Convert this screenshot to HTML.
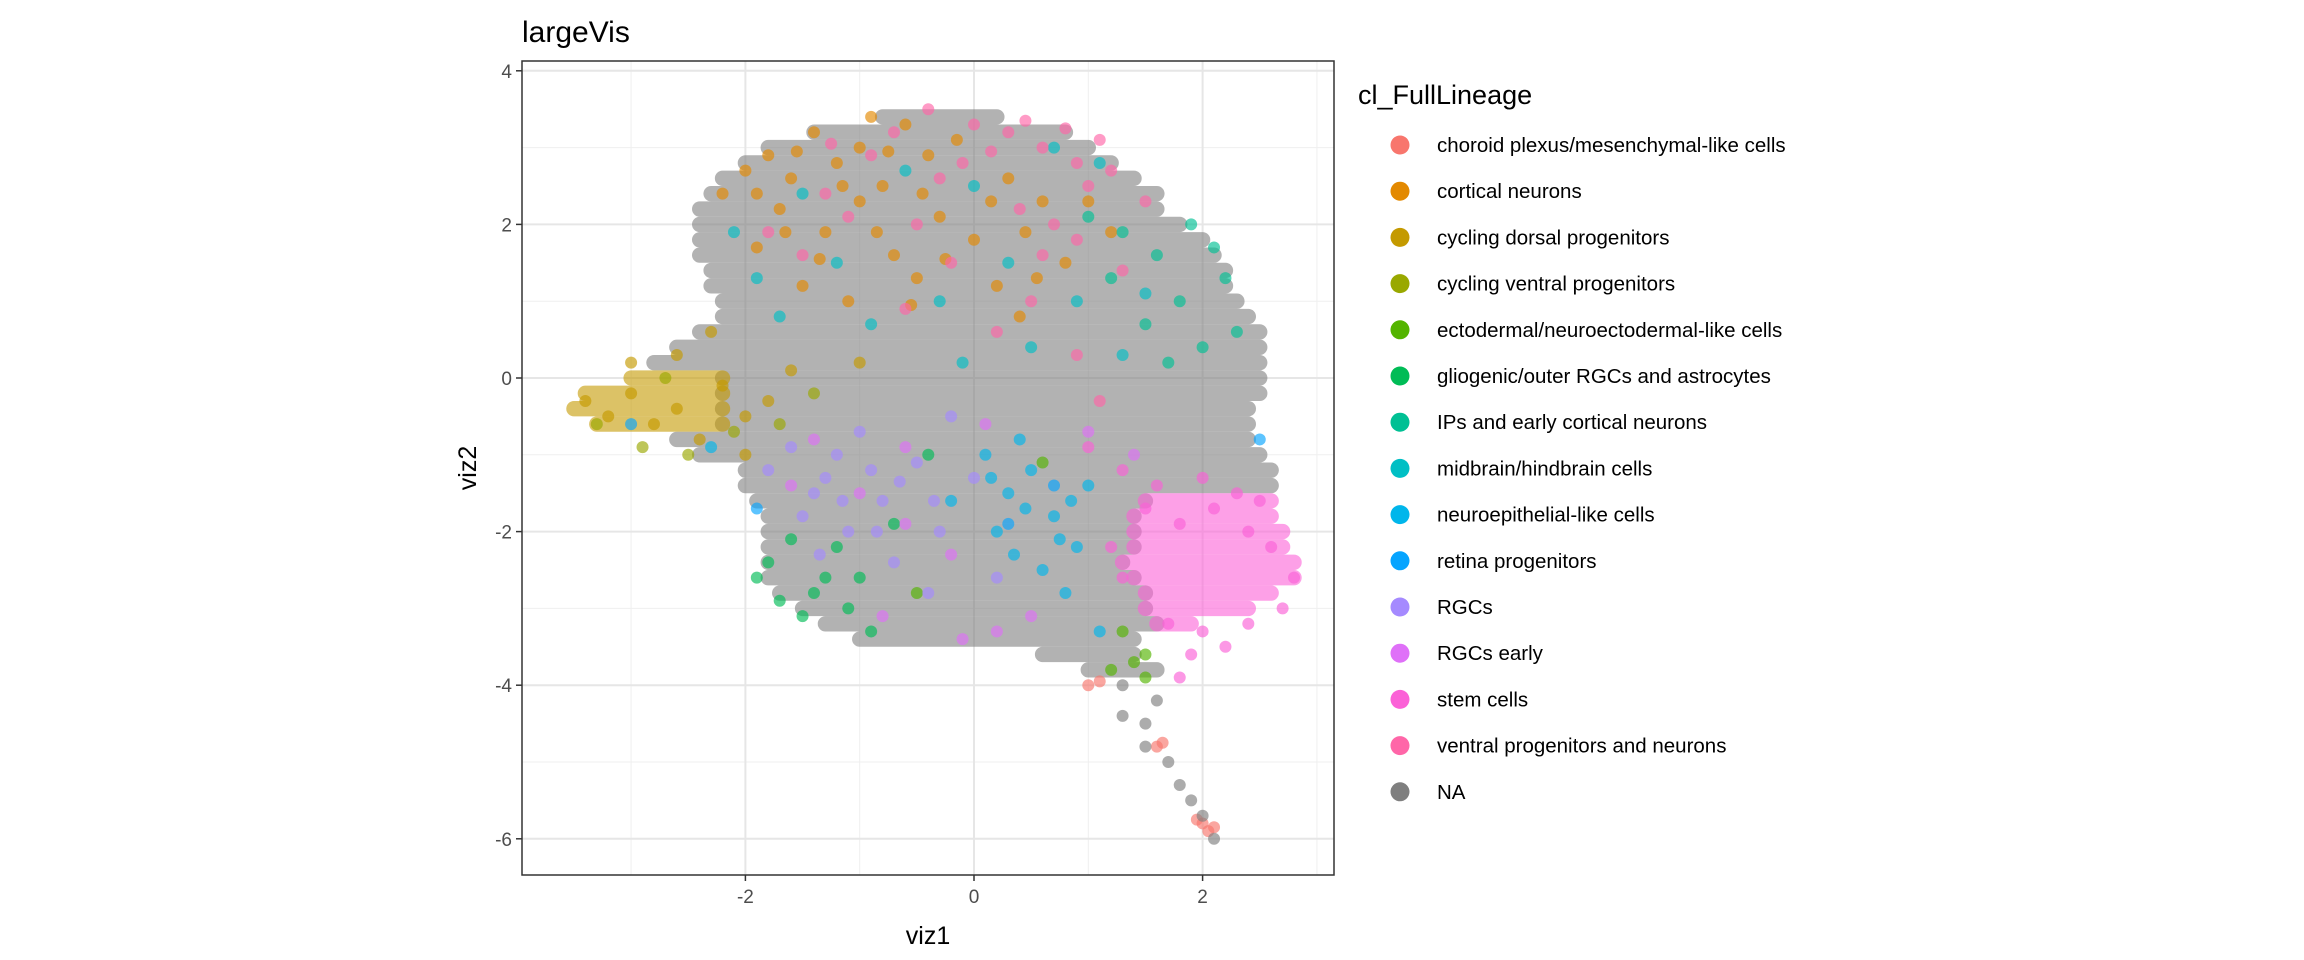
<!DOCTYPE html>
<html><head><meta charset="utf-8">
<style>
html,body{margin:0;padding:0;background:#fff;}
svg{display:block;font-family:"Liberation Sans",Arial,sans-serif;}
</style></head>
<body>
<svg id="chart" width="2304" height="960" viewBox="0 0 2304 960" xmlns="http://www.w3.org/2000/svg">
<rect width="2304" height="960" fill="#fff"/>
<text x="522" y="42" font-size="30" fill="#000">largeVis</text>
<g id="panel"></g>
<g id="legend"></g>
</svg>
<script>
const categories = ["choroid plexus/mesenchymal-like cells","cortical neurons","cycling dorsal progenitors","cycling ventral progenitors","ectodermal/neuroectodermal-like cells","gliogenic/outer RGCs and astrocytes","IPs and early cortical neurons","midbrain/hindbrain cells","neuroepithelial-like cells","retina progenitors","RGCs","RGCs early","stem cells","ventral progenitors and neurons","NA"];
const catColors = ["#F8766D","#E38900","#C49A00","#99A800","#53B400","#00BC56","#00C094","#00BFC4","#00B6EB","#06A4FF","#A58AFF","#DF70F8","#FB61D7","#FF66A8","#7F7F7F"];
const xTicks = [-2,0,2];
const yTicks = [-6,-4,-2,0,2,4];
const xTickLabels = ["-2","0","2"];
const yTickLabels = ["-6","-4","-2","0","2","4"];
const xMinor = [-3,-1,1,3];
const yMinor = [-5,-3,-1,1,3];
// dense cloud rows: [y, xStart, xEnd, categoryIndex]
const cloudRows = [
[3.4,-0.8,0.2,14],[3.2,-1.4,0.8,14],[3.0,-1.8,1.0,14],[2.8,-2.0,1.2,14],[2.6,-2.2,1.4,14],
[2.4,-2.3,1.6,14],[2.2,-2.4,1.6,14],[2.0,-2.4,1.8,14],[1.8,-2.4,2.0,14],[1.6,-2.4,2.1,14],
[1.4,-2.3,2.2,14],[1.2,-2.3,2.2,14],[1.0,-2.2,2.3,14],[0.8,-2.2,2.4,14],[0.6,-2.4,2.5,14],
[0.4,-2.6,2.5,14],[0.2,-2.8,2.5,14],[0.0,-2.2,2.5,14],[0.0,-3.0,-2.2,2],[-0.2,-2.2,2.5,14],
[-0.2,-3.4,-2.2,2],[-0.4,-2.2,2.4,14],[-0.4,-3.5,-2.2,2],[-0.6,-2.2,2.4,14],[-0.6,-3.3,-2.2,2],
[-0.8,-2.6,2.4,14],[-1.0,-2.4,2.5,14],[-1.2,-2.0,2.6,14],[-1.4,-2.0,2.6,14],
[-1.6,-1.9,1.5,14],[-1.6,1.5,2.6,12],[-1.8,-1.8,1.4,14],[-1.8,1.4,2.6,12],
[-2.0,-1.8,1.4,14],[-2.0,1.4,2.7,12],[-2.2,-1.8,1.4,14],[-2.2,1.4,2.7,12],
[-2.4,-1.8,1.3,14],[-2.4,1.3,2.8,12],[-2.6,-1.8,1.4,14],[-2.6,1.4,2.8,12],
[-2.8,-1.7,1.5,14],[-2.8,1.5,2.6,12],[-3.0,-1.5,1.5,14],[-3.0,1.5,2.4,12],
[-3.2,-1.3,1.6,14],[-3.2,1.6,1.9,12],[-3.4,-1.0,1.4,14],[-3.6,0.6,1.4,14],[-3.8,1.0,1.6,14]
];
// individual points: [x, y, categoryIndex]
const pointsX = [];
const pointsY = [];
const pointsCat = [];
const pointData = [
[1.0,-4.0,0],[1.1,-3.95,0],[1.6,-4.8,0],[1.65,-4.75,0],[2.0,-5.8,0],[2.05,-5.9,0],[2.1,-5.85,0],[1.95,-5.75,0],
[-2.0,2.7,1],[-1.8,2.9,1],[-1.6,2.6,1],[-1.4,3.2,1],[-1.2,2.8,1],[-1.0,3.0,1],[-0.8,2.5,1],[-0.6,3.3,1],[-0.4,2.9,1],[-1.7,2.2,1],[-1.3,1.9,1],[-1.0,2.3,1],[-0.7,1.6,1],[-0.3,2.1,1],[0.0,1.8,1],[0.3,2.6,1],[0.6,2.3,1],[-1.9,1.7,1],[-1.5,1.2,1],[-1.1,1.0,1],[-0.5,1.3,1],[0.2,1.2,1],[0.8,1.5,1],[1.2,1.9,1],[-2.2,2.4,1],[-0.9,3.4,1],[0.4,0.8,1],
[-1.9,2.4,1],[-1.55,2.95,1],[-1.15,2.5,1],[-0.75,2.95,1],[-0.45,2.4,1],[-0.15,3.1,1],[0.15,2.3,1],[0.45,1.9,1],[-1.35,1.55,1],[-0.85,1.9,1],[-0.25,1.55,1],[0.55,1.3,1],[1.0,2.3,1],[-1.65,1.9,1],[-0.55,0.95,1],
[-3.4,-0.3,2],[-3.2,-0.5,2],[-3.0,-0.2,2],[-2.8,-0.6,2],[-2.6,-0.4,2],[-2.4,-0.8,2],[-2.2,-0.1,2],[-2.0,-0.5,2],[-1.8,-0.3,2],[-2.6,0.3,2],[-3.0,0.2,2],[-2.0,-1.0,2],[-1.6,0.1,2],[-2.3,0.6,2],[-1.0,0.2,2],
[-3.3,-0.6,3],[-2.9,-0.9,3],[-2.5,-1.0,3],[-2.1,-0.7,3],[-1.7,-0.6,3],[-1.4,-0.2,3],[-2.7,0.0,3],
[1.3,-3.3,4],[1.4,-3.7,4],[1.5,-3.6,4],[1.2,-3.8,4],[-0.5,-2.8,4],[0.6,-1.1,4],[1.5,-3.9,4],
[-1.8,-2.4,5],[-1.7,-2.9,5],[-1.5,-3.1,5],[-1.3,-2.6,5],[-1.1,-3.0,5],[-1.6,-2.1,5],[-0.9,-3.3,5],[-1.4,-2.8,5],[-1.2,-2.2,5],[-0.7,-1.9,5],[-1.9,-2.6,5],[-1.0,-2.6,5],[-0.4,-1.0,5],
[1.3,1.9,6],[1.6,1.6,6],[1.9,2.0,6],[2.1,1.7,6],[2.2,1.3,6],[1.8,1.0,6],[1.5,0.7,6],[2.0,0.4,6],[1.2,1.3,6],[1.0,2.1,6],[2.3,0.6,6],[1.7,0.2,6],
[-1.9,1.3,7],[-1.5,2.4,7],[-1.2,1.5,7],[-0.9,0.7,7],[-0.6,2.7,7],[-0.3,1.0,7],[0.0,2.5,7],[0.3,1.5,7],[0.5,0.4,7],[0.9,1.0,7],[1.1,2.8,7],[-1.7,0.8,7],[-2.1,1.9,7],[0.7,3.0,7],[1.5,1.1,7],[-0.1,0.2,7],[1.3,0.3,7],
[0.1,-1.0,8],[0.3,-1.5,8],[0.5,-1.2,8],[0.7,-1.8,8],[0.9,-2.2,8],[0.2,-2.0,8],[0.6,-2.5,8],[0.4,-0.8,8],[1.0,-1.4,8],[-0.2,-1.6,8],[0.8,-2.8,8],[1.1,-3.3,8],[-2.3,-0.9,8],
[0.45,-1.7,8],[0.85,-1.6,8],[0.35,-2.3,8],[0.75,-2.1,8],[0.15,-1.3,8],
[0.3,-1.9,9],[0.7,-1.4,9],[-1.9,-1.7,9],[2.5,-0.8,9],[-3.0,-0.6,9],
[-1.6,-0.9,10],[-1.3,-1.3,10],[-1.0,-0.7,10],[-0.8,-1.6,10],[-0.5,-1.1,10],[-0.3,-2.0,10],[-1.1,-2.0,10],[-1.5,-1.8,10],[-0.7,-2.4,10],[-0.2,-0.5,10],[0.0,-1.3,10],[-1.2,-1.0,10],[-0.9,-1.2,10],[-1.8,-1.2,10],[0.2,-2.6,10],[-0.4,-2.8,10],[-1.4,-1.5,10],
[-1.15,-1.6,10],[-0.65,-1.35,10],[-0.35,-1.6,10],[-1.35,-2.3,10],[-0.85,-2.0,10],
[-1.4,-0.8,11],[-1.0,-1.5,11],[-0.6,-0.9,11],[-0.2,-2.3,11],[0.2,-3.3,11],[-0.1,-3.4,11],[0.5,-3.1,11],[-0.8,-3.1,11],[-1.6,-1.4,11],[1.4,-1.0,11],[1.0,-0.7,11],[-0.6,-1.9,11],[0.1,-0.6,11],
[1.5,-1.7,12],[1.8,-1.9,12],[2.1,-1.7,12],[2.4,-2.0,12],[2.6,-2.2,12],[2.8,-2.6,12],[2.7,-3.0,12],[2.4,-3.2,12],[2.0,-3.3,12],[1.7,-3.2,12],[1.9,-3.6,12],[1.8,-3.9,12],[2.2,-3.5,12],[1.3,-2.6,12],[1.2,-2.2,12],[1.6,-1.4,12],[2.0,-1.3,12],[1.3,-1.2,12],[2.3,-1.5,12],[2.5,-1.6,12],[1.0,-0.9,12],
[0.0,3.3,13],[0.3,3.2,13],[0.6,3.0,13],[0.9,2.8,13],[1.1,3.1,13],[1.0,2.5,13],[0.7,2.0,13],[0.4,2.2,13],[-0.4,3.5,13],[-0.9,2.9,13],[-1.3,2.4,13],[-0.2,1.5,13],[0.2,0.6,13],[-0.6,0.9,13],[-1.5,1.6,13],[1.3,1.4,13],[1.5,2.3,13],[0.5,1.0,13],[-0.1,2.8,13],[0.9,0.3,13],[1.1,-0.3,13],[-1.8,1.9,13],[0.6,1.6,13],
[0.15,2.95,13],[0.45,3.35,13],[0.8,3.25,13],[1.2,2.7,13],[-0.3,2.6,13],[-1.1,2.1,13],[-0.5,2.0,13],[0.9,1.8,13],[-1.25,3.05,13],[-0.7,3.2,13],
[1.3,-4.4,14],[1.5,-4.5,14],[1.5,-4.8,14],[1.7,-5.0,14],[1.8,-5.3,14],[1.9,-5.5,14],[2.0,-5.7,14],[2.1,-6.0,14],[1.3,-4.0,14],[1.6,-4.2,14]
];
pointData.forEach(p => { pointsX.push(p[0]); pointsY.push(p[1]); pointsCat.push(p[2]); });

const NS = "http://www.w3.org/2000/svg";
const L = 522, R = 1334, T = 61, B = 875;
const X0 = 974, XU = 114.3, Y0 = 378, YU = 76.8;
const sx = v => X0 + v * XU;
const sy = v => Y0 - v * YU;
function mk(tag, attrs, parent){ const e=document.createElementNS(NS,tag); for(const k in attrs) e.setAttribute(k,attrs[k]); parent.appendChild(e); return e; }
const svg = document.getElementById('chart');
const panel = document.getElementById('panel');
const legend = document.getElementById('legend');

mk('rect',{x:L,y:T,width:R-L,height:B-T,fill:'#fff'},panel);
xMinor.forEach(v=>{ const l=mk('line',{x1:sx(v),x2:sx(v),y1:T,y2:B,stroke:'#EFEFEF','stroke-width':1},panel);

 });
yMinor.forEach(v=>{ const l=mk('line',{x1:L,x2:R,y1:sy(v),y2:sy(v),stroke:'#EFEFEF','stroke-width':1},panel);

 });
xTicks.forEach(v=>{ const l=mk('line',{x1:sx(v),x2:sx(v),y1:T,y2:B,stroke:'#E6E6E6','stroke-width':2},panel);

 });
yTicks.forEach(v=>{ const l=mk('line',{x1:L,x2:R,y1:sy(v),y2:sy(v),stroke:'#E6E6E6','stroke-width':2},panel);

 });

const rowW = 0.2 * YU;
cloudRows.forEach(r=>{
  const l = mk('line',{x1:sx(r[1]),x2:sx(r[2]),y1:sy(r[0]),y2:sy(r[0]),stroke:catColors[r[3]],'stroke-opacity':0.6,'stroke-width':rowW,'stroke-linecap':'round'},panel);
  
  
});
for(let i=0;i<pointsX.length;i++){
  const c = mk('circle',{cx:sx(pointsX[i]),cy:sy(pointsY[i]),r:6,fill:catColors[pointsCat[i]],'fill-opacity':0.65},panel);
  
  
}
const border = mk('rect',{x:L,y:T,width:R-L,height:B-T,fill:'none',stroke:'#333','stroke-width':1.5},panel);



xTicks.forEach((v,i)=>{
  mk('line',{x1:sx(v),x2:sx(v),y1:B,y2:B+6,stroke:'#333','stroke-width':1.5},panel);
  const t = mk('text',{x:sx(v),y:B+28,'text-anchor':'middle','font-size':19,fill:'#4D4D4D'},panel);
  t.textContent = xTickLabels[i];
  
  
});
yTicks.forEach((v,i)=>{
  mk('line',{x1:L-6,x2:L,y1:sy(v),y2:sy(v),stroke:'#333','stroke-width':1.5},panel);
  const t = mk('text',{x:L-10,y:sy(v)+7,'text-anchor':'end','font-size':19,fill:'#4D4D4D'},panel);
  t.textContent = yTickLabels[i];
  
  
});
const xt = mk('text',{x:(L+R)/2,y:944,'text-anchor':'middle','font-size':25,fill:'#000'},svg);
xt.textContent='viz1';


const yt = mk('text',{x:0,y:0,'text-anchor':'middle','font-size':25,fill:'#000',transform:`translate(476,${(T+B)/2}) rotate(-90)`},svg);
yt.textContent='viz2';



const lt = mk('text',{x:1358,y:104,'font-size':27,fill:'#000'},legend);
lt.textContent='cl_FullLineage';


categories.forEach((c,i)=>{
  const y = 145 + i*46.2;
  const g = mk('g',{},legend);
  
  
  mk('circle',{cx:1400,cy:y,r:9.5,fill:catColors[i]},g);
  const t = mk('text',{x:1437,y:y+7,'font-size':20.5,fill:'#000'},g);
  t.textContent=c;
});
</script>
</body></html>
